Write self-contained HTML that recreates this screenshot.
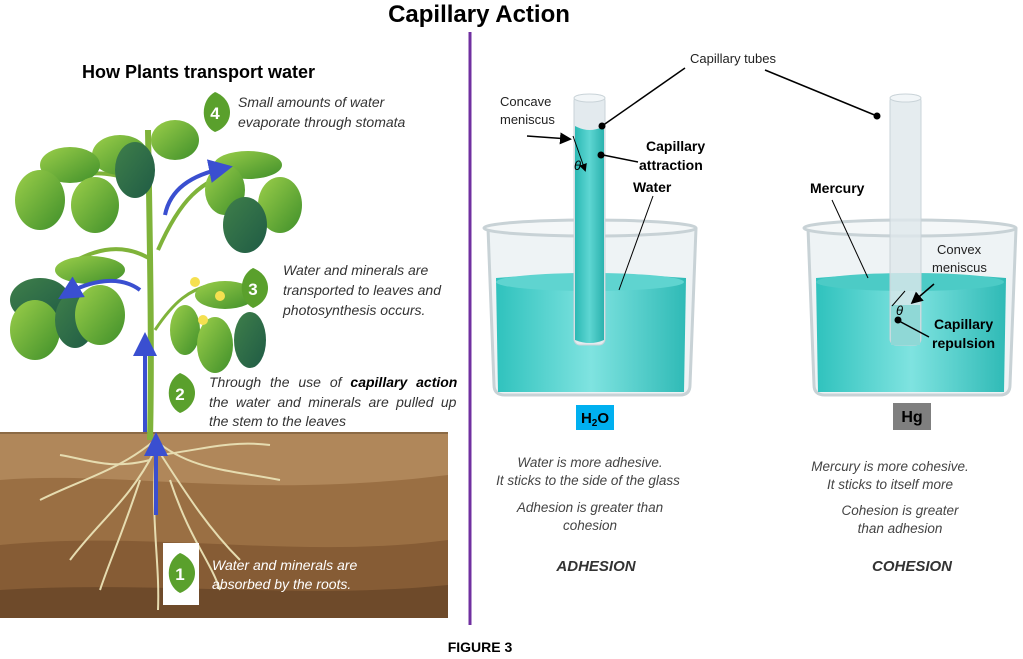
<!DOCTYPE html>
<html><head><meta charset="utf-8"><style>
html,body{margin:0;padding:0;background:#fff;}
svg{display:block;}
text{font-family:"Liberation Sans",Arial,sans-serif;}
</style></head><body>
<svg width="1023" height="659" viewBox="0 0 1023 659" xmlns="http://www.w3.org/2000/svg">
<defs>
<linearGradient id="wat" x1="0" x2="1"><stop offset="0" stop-color="#2fc2bd"/><stop offset="0.5" stop-color="#7fe3e0"/><stop offset="1" stop-color="#2fbab6"/></linearGradient>
<linearGradient id="tubeW" x1="0" x2="1"><stop offset="0" stop-color="#2bb9b4"/><stop offset="0.5" stop-color="#5ed6d2"/><stop offset="1" stop-color="#2bb2ae"/></linearGradient>
<linearGradient id="leaf" x1="0" y1="0" x2="1" y2="1"><stop offset="0" stop-color="#9ccf4a"/><stop offset="1" stop-color="#3f8f2a"/></linearGradient>
<linearGradient id="leafD" x1="0" y1="0" x2="1" y2="1"><stop offset="0" stop-color="#3f7f4a"/><stop offset="1" stop-color="#1f5b45"/></linearGradient>
<marker id="ah" markerWidth="8" markerHeight="8" refX="6" refY="4" orient="auto"><path d="M0,0 L8,4 L0,8 z" fill="#000"/></marker>
<marker id="bh" markerWidth="6" markerHeight="6" refX="4" refY="3" orient="auto"><path d="M0,0 L6,3 L0,6 z" fill="#3a4fd0"/></marker>
</defs>

<text x="479" y="22" font-size="24" font-weight="bold" text-anchor="middle">Capillary Action</text>
<line x1="470" y1="32" x2="470" y2="625" stroke="#7030a0" stroke-width="3"/>

<rect x="0" y="432" width="448" height="186" fill="#b0875a"/>
<path d="M0,480 C120,470 250,500 448,475 L448,618 L0,618 Z" fill="#9a6f43"/>
<path d="M0,545 C150,530 300,560 448,540 L448,618 L0,618 Z" fill="#865c35"/>
<path d="M0,590 C150,580 300,600 448,585 L448,618 L0,618 Z" fill="#6e4a2a"/>
<line x1="0" y1="433" x2="448" y2="433" stroke="#8b6a45" stroke-width="2"/>
<g stroke="#e6dcb0" stroke-width="2" fill="none">
<path d="M155,440 C120,470 80,480 40,500"/><path d="M155,440 C190,470 230,470 280,480"/>
<path d="M155,450 C130,500 100,520 70,560"/><path d="M158,450 C190,500 210,530 240,560"/>
<path d="M156,450 C150,520 160,560 158,610"/><path d="M150,460 C110,470 90,460 60,455"/>
<path d="M160,455 C200,450 230,440 270,445"/><path d="M140,480 C120,540 110,560 100,590"/>
<path d="M170,480 C190,540 210,560 220,590"/>
</g>
<path d="M150,440 C152,350 150,250 148,130" stroke="#7fb33a" stroke-width="6" fill="none"/>
<path d="M152,260 C120,240 90,250 60,270" stroke="#7fb33a" stroke-width="4" fill="none"/>
<path d="M158,250 C180,200 200,180 240,170" stroke="#7fb33a" stroke-width="4" fill="none"/>
<path d="M150,190 C120,170 90,170 60,180" stroke="#7fb33a" stroke-width="4" fill="none"/>
<path d="M155,330 C175,300 190,290 210,285" stroke="#7fb33a" stroke-width="3" fill="none"/>
<g>
<ellipse cx="175" cy="140" rx="24" ry="20" fill="url(#leaf)"/>
<ellipse cx="120" cy="155" rx="28" ry="20" fill="url(#leaf)"/>
<ellipse cx="70" cy="165" rx="30" ry="18" fill="url(#leaf)"/>
<ellipse cx="135" cy="170" rx="20" ry="28" fill="url(#leafD)"/>
<ellipse cx="40" cy="200" rx="25" ry="30" fill="url(#leaf)"/>
<ellipse cx="95" cy="205" rx="24" ry="28" fill="url(#leaf)"/>
<ellipse cx="248" cy="165" rx="34" ry="14" fill="url(#leaf)"/>
<ellipse cx="225" cy="190" rx="20" ry="25" fill="url(#leaf)"/>
<ellipse cx="280" cy="205" rx="22" ry="28" fill="url(#leaf)"/>
<ellipse cx="245" cy="225" rx="22" ry="28" fill="url(#leafD)"/>
<ellipse cx="90" cy="270" rx="35" ry="14" fill="url(#leaf)"/>
<ellipse cx="40" cy="300" rx="30" ry="22" fill="url(#leafD)"/>
<ellipse cx="35" cy="330" rx="25" ry="30" fill="url(#leaf)"/>
<ellipse cx="75" cy="320" rx="20" ry="28" fill="url(#leafD)"/>
<ellipse cx="100" cy="315" rx="25" ry="30" fill="url(#leaf)"/>
<ellipse cx="225" cy="295" rx="30" ry="14" fill="url(#leaf)"/>
<ellipse cx="185" cy="330" rx="15" ry="25" fill="url(#leaf)"/>
<ellipse cx="215" cy="345" rx="18" ry="28" fill="url(#leaf)"/>
<ellipse cx="250" cy="340" rx="16" ry="28" fill="url(#leafD)"/>
<circle cx="195" cy="282" r="5" fill="#f5e050"/><circle cx="220" cy="296" r="5" fill="#f5e050"/><circle cx="203" cy="320" r="5" fill="#f5e050"/>
</g>
<g stroke="#3a4fd0" stroke-width="4" fill="none" marker-end="url(#bh)">
<path d="M156,515 L156,440"/>
<path d="M145,432 L145,340"/>
<path d="M140,290 C120,275 90,280 65,295"/>
<path d="M165,215 C170,190 190,175 225,168"/>
</g>
<rect x="163" y="543" width="36" height="62" fill="#fff"/>
<g fill="#5aa02c">
<path d="M215,92 C235,100 235,125 215,132 C200,125 200,100 215,92Z"/>
<path d="M253,268 C273,276 273,300 253,308 C238,300 238,276 253,268Z"/>
<path d="M180,373 C200,381 200,405 180,413 C165,405 165,381 180,373Z"/>
<path d="M180,553 C200,561 200,585 180,593 C165,585 165,561 180,553Z"/>
</g>
<g fill="#fff" font-size="17" font-weight="bold" text-anchor="middle">
<text x="215" y="119">4</text><text x="253" y="295">3</text><text x="180" y="400">2</text><text x="180" y="580">1</text>
</g>

<text x="82" y="78" font-size="18" font-weight="bold">How Plants transport water</text>
<g font-size="14" font-style="italic" fill="#333">
<text x="238" y="107">Small amounts of water</text>
<text x="238" y="127">evaporate through stomata</text>
<text x="283" y="275">Water and minerals are</text>
<text x="283" y="295">transported to leaves and</text>
<text x="283" y="315">photosynthesis occurs.</text>
<text x="209" y="387" word-spacing="5">Through the use of <tspan font-weight="bold" fill="#000">capillary action</tspan></text>
<text x="209" y="407" word-spacing="3.5">the water and minerals are pulled up</text>
<text x="209" y="426">the stem to the leaves</text>
<text x="212" y="570" fill="#fff">Water and minerals are</text>
<text x="212" y="589" fill="#fff">absorbed by the roots.</text>
</g>

<g>
<path d="M488,228 L494,385 Q494,395 505,395 L680,395 Q690,395 690,385 L696,228" fill="#eef3f5" stroke="#c8d2d6" stroke-width="3"/>
<ellipse cx="590" cy="228" rx="106" ry="8" fill="#f4f7f8" stroke="#c8d2d6" stroke-width="3"/>
<path d="M496,278 Q590,270 686,278 L684,392 L498,392 Z" fill="url(#wat)"/>
<ellipse cx="590" cy="282" rx="94" ry="9" fill="#5fd4d0"/>
<rect x="574" y="95" width="31" height="250" rx="6" fill="#e3eaee" stroke="#c9d3d8"/>
<ellipse cx="589.5" cy="98" rx="15.5" ry="4" fill="#f2f6f8" stroke="#c9d3d8"/>
<path d="M575,126 Q590,134 604,126 L604,340 Q590,346 575,340 Z" fill="url(#tubeW)"/>

<path d="M808,228 L814,385 Q814,395 825,395 L1000,395 Q1010,395 1010,385 L1016,228" fill="#eef3f5" stroke="#c8d2d6" stroke-width="3"/>
<ellipse cx="910" cy="228" rx="106" ry="8" fill="#f4f7f8" stroke="#c8d2d6" stroke-width="3"/>
<path d="M816,278 Q910,270 1006,278 L1004,392 L818,392 Z" fill="url(#wat)"/>
<ellipse cx="910" cy="282" rx="94" ry="9" fill="#4ccbc6"/>
<rect x="890" y="95" width="31" height="250" rx="6" fill="#dfe7eb" fill-opacity="0.8" stroke="#c9d3d8"/>
<ellipse cx="905.5" cy="98" rx="15.5" ry="4" fill="#f2f6f8" stroke="#c9d3d8"/>
<rect x="891" y="305" width="29" height="40" fill="#8fd8d6"/>
</g>

<g font-size="13" fill="#222">
<text x="690" y="63">Capillary tubes</text>
<text x="500" y="106">Concave</text><text x="500" y="124">meniscus</text>
<text x="937" y="254">Convex</text><text x="932" y="272">meniscus</text>
</g>
<g font-size="14" font-weight="bold">
<text x="646" y="151">Capillary</text><text x="639" y="170">attraction</text>
<text x="633" y="192">Water</text>
<text x="810" y="193">Mercury</text>
<text x="934" y="329">Capillary</text><text x="932" y="348">repulsion</text>
</g>
<g stroke="#000" stroke-width="1.5" fill="none">
<line x1="685" y1="68" x2="602" y2="126"/>
<line x1="765" y1="70" x2="877" y2="116"/>
<line x1="527" y1="136" x2="569" y2="139" marker-end="url(#ah)"/>
<line x1="603" y1="155" x2="638" y2="162"/>
<line x1="653" y1="196" x2="619" y2="290" stroke-width="1"/>
<line x1="832" y1="200" x2="868" y2="278" stroke-width="1"/>
<line x1="934" y1="284" x2="913" y2="302" marker-end="url(#ah)"/>
<line x1="899" y1="321" x2="929" y2="337"/>
<line x1="573" y1="136" x2="585" y2="170" stroke-width="1" marker-end="url(#ah)"/>
<line x1="892" y1="306" x2="905" y2="291" stroke-width="1"/>
</g>
<g fill="#000"><circle cx="602" cy="126" r="3.5"/><circle cx="877" cy="116" r="3.5"/><circle cx="601" cy="155" r="3.5"/><circle cx="898" cy="320" r="3.5"/></g>
<text x="574" y="170" font-size="13" font-style="italic" font-family="Liberation Serif">θ</text>
<text x="896" y="315" font-size="13" font-style="italic" font-family="Liberation Serif">θ</text>

<rect x="576" y="405" width="38" height="25" fill="#00b0f0"/>
<text x="595" y="423" font-size="15" font-weight="bold" text-anchor="middle">H<tspan font-size="10" dy="3">2</tspan><tspan dy="-3">O</tspan></text>
<rect x="893" y="403" width="38" height="27" fill="#7f7f7f"/>
<text x="912" y="422" font-size="16" font-weight="bold" text-anchor="middle">Hg</text>

<g font-size="13.5" font-style="italic" fill="#444" text-anchor="middle">
<text x="590" y="467">Water is more adhesive.</text>
<text x="588" y="485">It sticks to the side of the glass</text>
<text x="590" y="512">Adhesion is greater than</text>
<text x="590" y="530">cohesion</text>
<text x="890" y="471">Mercury is more cohesive.</text>
<text x="890" y="489">It sticks to itself more</text>
<text x="900" y="515">Cohesion is greater</text>
<text x="900" y="533">than adhesion</text>
</g>
<g font-size="15" font-weight="bold" font-style="italic" fill="#333" text-anchor="middle">
<text x="596" y="571">ADHESION</text>
<text x="912" y="571">COHESION</text>
</g>
<text x="480" y="652" font-size="14" font-weight="bold" text-anchor="middle">FIGURE 3</text>
</svg>
</body></html>
